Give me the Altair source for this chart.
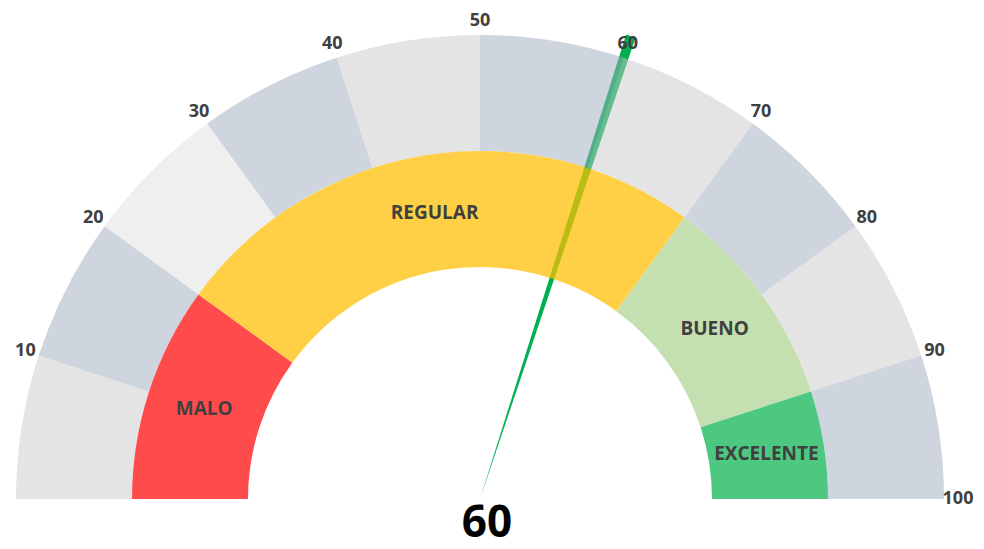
import math
import altair as alt
import pandas as pd

# ---- data ----
band_start = [0, 10, 20, 30, 40, 50, 60, 70, 80, 90]
band_end = [10, 20, 30, 40, 50, 60, 70, 80, 90, 100]
zones = ["MALO", "REGULAR", "BUENO", "EXCELENTE"]
zone_start = [0, 20, 70, 90]
zone_end = [20, 70, 90, 100]
tick_values = [10, 20, 30, 40, 50, 60, 70, 80, 90, 100]
tick_labels = ["10", "20", "30", "40", "50", "60", "70", "80", "90", "100"]
gauge_value = 60

# ---- styles ----
band_fill = ["#c9c9c9", "#9fabbf", "#dfdfdf", "#9fabbf", "#c9c9c9",
             "#9fabbf", "#c9c9c9", "#9fabbf", "#c9c9c9", "#9fabbf"]
zone_fill = ["#ff4b4b", "#ffbe00", "#c4dfb0", "#4cc880"]
zone_opacity = [1.0, 0.73, 1.0, 1.0]

CX, CY = 472, 491
FONT = "Open Sans"
theta_scale = alt.Scale(domain=[0, 100], range=[-math.pi / 2, math.pi / 2])

bands = pd.DataFrame({"start": band_start, "end": band_end, "fill": band_fill})
zone_df = pd.DataFrame({"zone": zones, "start": zone_start, "end": zone_end,
                        "fill": zone_fill, "op": zone_opacity})
ticks = pd.DataFrame({"value": tick_values, "label": tick_labels})
needle_df = pd.DataFrame({"value": [gauge_value]})

needle = alt.Chart(needle_df).transform_calculate(
    a="datum.value - 0.3", b="datum.value + 0.35"
).mark_arc(radius=487, radius2=0, color="#00b050").encode(
    theta=alt.Theta("a:Q", scale=theta_scale, stack=False),
    theta2="b:Q",
    x=alt.value(CX), y=alt.value(CY),
)

band_layer = alt.Chart(bands).mark_arc(radius=464, radius2=348, opacity=0.5).encode(
    theta=alt.Theta("start:Q", scale=theta_scale, stack=False),
    theta2="end:Q",
    color=alt.Color("fill:N", scale=None),
    x=alt.value(CX), y=alt.value(CY),
)

zone_layer = alt.Chart(zone_df).mark_arc(radius=348, radius2=232).encode(
    theta=alt.Theta("start:Q", scale=theta_scale, stack=False),
    theta2="end:Q",
    color=alt.Color("fill:N", scale=None),
    opacity=alt.Opacity("op:Q", scale=None),
    x=alt.value(CX), y=alt.value(CY),
)

tick_layer = alt.Chart(ticks).mark_text(
    radius=478, font=FONT, fontWeight="bold", fontSize=18, color="#404040"
).encode(
    theta=alt.Theta("value:Q", scale=theta_scale, stack=False),
    text="label:N",
    x=alt.value(CX), y=alt.value(CY),
)

zone_text = alt.Chart(zone_df).transform_calculate(
    mid="(datum.start + datum.end) / 2"
).mark_text(
    radius=290, font=FONT, fontWeight="bold", fontSize=19, color="#404040"
).encode(
    theta=alt.Theta("mid:Q", scale=theta_scale, stack=False),
    text="zone:N",
    x=alt.value(CX), y=alt.value(CY),
)

value_text = alt.Chart(needle_df).mark_text(
    font=FONT, fontWeight="bold", fontSize=44, color="#000000"
).encode(
    text="value:Q",
    x=alt.value(479), y=alt.value(516),
)

chart = alt.layer(needle, band_layer, zone_layer, tick_layer, zone_text, value_text).properties(
    width=968, height=533, padding=0, autosize="none"
).configure_view(stroke=None)

chart.save("out.html", embed_options={"renderer": "svg", "actions": False})
